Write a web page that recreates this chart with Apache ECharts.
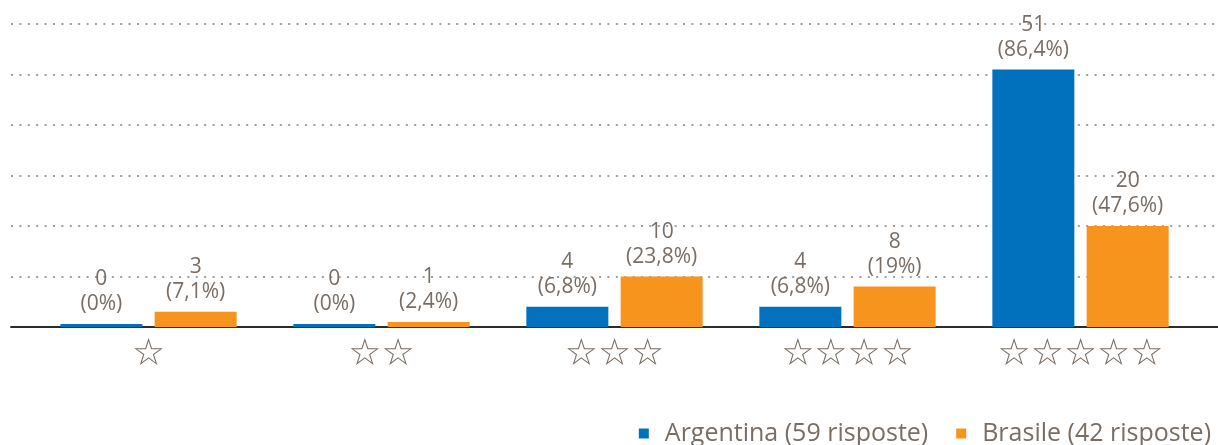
<!DOCTYPE html>
<html>
<head>
<meta charset="utf-8">
<script src="https://cdn.jsdelivr.net/npm/echarts@6/dist/echarts.min.js"></script>
<style>
    html, body { margin: 0; padding: 0; background: #fff; }
    #chart { width: 1218px; height: 445px; }
</style>
</head>
<body>
<div id="chart"></div>
<script>
// stelle (valutazione) per categoria
var categories = ['☆', '☆☆', '☆☆☆', '☆☆☆☆', '☆☆☆☆☆'];
var argentina = [0, 0, 4, 4, 51];
var argentinaPct = ['0%', '0%', '6,8%', '6,8%', '86,4%'];
var brasile = [3, 1, 10, 8, 20];
var brasilePct = ['7,1%', '2,4%', '23,8%', '19%', '47,6%'];
var seriesNames = ['Argentina (59 risposte)', 'Brasile (42 risposte)'];

var textColor = '#7a6e64';
var font = '"Open Sans", Lato, sans-serif';

var chart = echarts.init(document.getElementById('chart'));

function barLabel(pct) {
    return {
        show: true,
        position: 'top',
        distance: 7,
        color: textColor,
        fontFamily: font,
        fontSize: 21,
        lineHeight: 25,
        formatter: function (p) {
            return p.value + '\n(' + pct[p.dataIndex] + ')';
        }
    };
}

var option = {
    animation: false,
    color: ['#0171bd', '#f7941e'],
    legend: {
        right: 2,
        top: 416,
        itemWidth: 10,
        itemHeight: 10,
        itemGap: 28,
        icon: 'rect',
        data: seriesNames,
        formatter: function (name) {
            return '{t|' + name + '}';
        },
        textStyle: {
            color: textColor,
            fontFamily: font,
            fontSize: 25,
            rich: {
                t: { padding: [0, 0, 0, 11], fontSize: 25, color: textColor, fontFamily: font, lineHeight: 28 }
            }
        }
    },
    grid: [
        // full width: dotted grid lines and base line
        { left: 11, right: 0, top: 24, height: 303 },
        // bars
        { left: 32, right: 21, top: 24, height: 303 }
    ],
    xAxis: [
        {
            gridIndex: 0,
            type: 'category',
            data: [''],
            axisTick: { show: false },
            axisLabel: { show: false },
            axisLine: { show: true, lineStyle: { color: '#2b2b2b', width: 2 } }
        },
        {
            gridIndex: 1,
            type: 'category',
            data: categories,
            axisTick: { show: false },
            axisLine: { show: false },
            axisLabel: {
                color: textColor,
                fontFamily: '"DejaVu Sans"',
                fontSize: 37,
                lineHeight: 37,
                margin: 10
            }
        }
    ],
    yAxis: [
        {
            gridIndex: 0,
            type: 'value',
            min: 0,
            max: 60,
            interval: 10,
            axisLabel: { show: false },
            axisLine: { show: false },
            axisTick: { show: false },
            splitLine: {
                show: true,
                lineStyle: { color: '#a0a0a0', width: 2, type: [2, 6.4] }
            }
        },
        {
            gridIndex: 1,
            type: 'value',
            min: 0,
            max: 60,
            interval: 10,
            show: false,
            splitLine: { show: false }
        }
    ],
    series: [
        {
            name: seriesNames[0],
            type: 'bar',
            xAxisIndex: 1,
            yAxisIndex: 1,
            data: argentina,
            barWidth: 82,
            barGap: '15%',
            barMinHeight: 3,
            label: barLabel(argentinaPct)
        },
        {
            name: seriesNames[1],
            type: 'bar',
            xAxisIndex: 1,
            yAxisIndex: 1,
            data: brasile,
            barWidth: 82,
            barGap: '15%',
            barMinHeight: 3,
            label: barLabel(brasilePct)
        }
    ]
};

chart.setOption(option);
</script>
</body>
</html>
